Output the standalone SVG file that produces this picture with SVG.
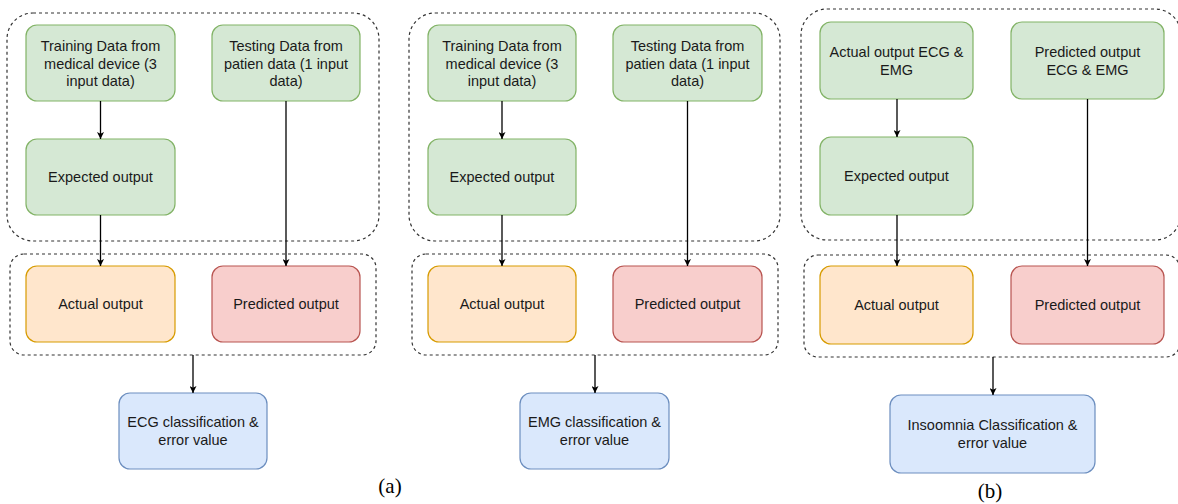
<svg xmlns="http://www.w3.org/2000/svg" width="1178" height="504" viewBox="0 0 1178 504">
  <style>
    .grp { fill: none; stroke: #333333; stroke-width: 1.2; stroke-dasharray: 3 3; }
    .green { fill: #d5e8d4; stroke: #82b366; stroke-width: 1.2; }
    .orange { fill: #ffe6cc; stroke: #d79b00; stroke-width: 1.2; }
    .red { fill: #f8cecc; stroke: #b85450; stroke-width: 1.2; }
    .blue { fill: #dae8fc; stroke: #6c8ebf; stroke-width: 1.2; }
    .lbl { font-family: "Liberation Sans", Arial, sans-serif; font-size: 14.5px; fill: #1a1a1a; text-anchor: middle; }
    .cap { font-family: "Liberation Serif", "Times New Roman", serif; font-size: 21px; fill: #000000; text-anchor: middle; }
    .edge { fill: none; stroke: #000000; stroke-width: 1.3; marker-end: url(#arrow); }
  </style>
  <defs>
    <marker id="arrow" viewBox="0 0 10 10" refX="10" refY="5" markerWidth="7" markerHeight="7" markerUnits="userSpaceOnUse" orient="auto">
      <path d="M0,0 L10,5 L0,10 L2.5,5 Z" fill="#000000"/>
    </marker>
  </defs>
  <rect width="1178" height="504" fill="#ffffff"/>

  <!-- dashed grouping frames -->
  <g id="frames">
    <rect class="grp" x="7" y="13" width="372" height="228" rx="26" ry="26"/>
    <rect class="grp" x="10" y="254" width="366" height="101" rx="14" ry="14"/>
    <rect class="grp" x="409" y="13" width="371" height="228" rx="26" ry="26"/>
    <rect class="grp" x="412" y="254" width="366" height="101" rx="14" ry="14"/>
    <rect class="grp" x="801" y="9" width="380" height="231" rx="26" ry="26"/>
    <rect class="grp" x="804" y="255" width="376" height="102" rx="14" ry="14"/>
  </g>

  <!-- panel (a): ECG -->
  <g id="a-training">
    <rect class="green" x="26" y="25" width="149" height="76" rx="11"/>
    <text class="lbl" x="100.5" y="51">Training Data from</text>
    <text class="lbl" x="100.5" y="68.5">medical device (3</text>
    <text class="lbl" x="100.5" y="86">input data)</text>
  </g>
  <g id="a-testing">
    <rect class="green" x="212" y="25" width="148" height="76" rx="11"/>
    <text class="lbl" x="286" y="51">Testing Data from</text>
    <text class="lbl" x="286" y="68.5">patien data (1 input</text>
    <text class="lbl" x="286" y="86">data)</text>
  </g>
  <g id="a-expected">
    <rect class="green" x="26" y="139" width="149" height="76" rx="11"/>
    <text class="lbl" x="100.5" y="182">Expected output</text>
  </g>
  <g id="a-actual">
    <rect class="orange" x="26" y="266" width="149" height="76" rx="11"/>
    <text class="lbl" x="100.5" y="309">Actual output</text>
  </g>
  <g id="a-predicted">
    <rect class="red" x="212" y="266" width="148" height="76" rx="11"/>
    <text class="lbl" x="286" y="309">Predicted output</text>
  </g>
  <g id="a-result">
    <rect class="blue" x="119" y="393" width="148" height="76" rx="11"/>
    <text class="lbl" x="193" y="427">ECG classification &amp;</text>
    <text class="lbl" x="193" y="444.5">error value</text>
  </g>

  <!-- panel (a'): EMG -->
  <g id="b-training">
    <rect class="green" x="428" y="25" width="148" height="76" rx="11"/>
    <text class="lbl" x="502" y="51">Training Data from</text>
    <text class="lbl" x="502" y="68.5">medical device (3</text>
    <text class="lbl" x="502" y="86">input data)</text>
  </g>
  <g id="b-testing">
    <rect class="green" x="613" y="25" width="149" height="76" rx="11"/>
    <text class="lbl" x="687.5" y="51">Testing Data from</text>
    <text class="lbl" x="687.5" y="68.5">patien data (1 input</text>
    <text class="lbl" x="687.5" y="86">data)</text>
  </g>
  <g id="b-expected">
    <rect class="green" x="428" y="139" width="148" height="76" rx="11"/>
    <text class="lbl" x="502" y="182">Expected output</text>
  </g>
  <g id="b-actual">
    <rect class="orange" x="428" y="266" width="148" height="76" rx="11"/>
    <text class="lbl" x="502" y="309">Actual output</text>
  </g>
  <g id="b-predicted">
    <rect class="red" x="613" y="266" width="149" height="76" rx="11"/>
    <text class="lbl" x="687.5" y="309">Predicted output</text>
  </g>
  <g id="b-result">
    <rect class="blue" x="520" y="393" width="149" height="76" rx="11"/>
    <text class="lbl" x="594.5" y="427">EMG classification &amp;</text>
    <text class="lbl" x="594.5" y="444.5">error value</text>
  </g>

  <!-- panel (b): insomnia -->
  <g id="c-actual-in">
    <rect class="green" x="820" y="22" width="153" height="77" rx="11"/>
    <text class="lbl" x="896.5" y="57">Actual output ECG &amp;</text>
    <text class="lbl" x="896.5" y="74.5">EMG</text>
  </g>
  <g id="c-predicted-in">
    <rect class="green" x="1011" y="22" width="153" height="77" rx="11"/>
    <text class="lbl" x="1087.5" y="57">Predicted output</text>
    <text class="lbl" x="1087.5" y="74.5">ECG &amp; EMG</text>
  </g>
  <g id="c-expected">
    <rect class="green" x="820" y="137" width="153" height="78" rx="11"/>
    <text class="lbl" x="896.5" y="181">Expected output</text>
  </g>
  <g id="c-actual">
    <rect class="orange" x="820" y="266" width="153" height="78" rx="11"/>
    <text class="lbl" x="896.5" y="310">Actual output</text>
  </g>
  <g id="c-predicted">
    <rect class="red" x="1011" y="266" width="153" height="78" rx="11"/>
    <text class="lbl" x="1087.5" y="310">Predicted output</text>
  </g>
  <g id="c-result">
    <rect class="blue" x="890" y="395" width="205" height="78" rx="11"/>
    <text class="lbl" x="992.5" y="430">Insoomnia Classification &amp;</text>
    <text class="lbl" x="992.5" y="447.5">error value</text>
  </g>

  <!-- connectors -->
  <g id="connectors">
    <line class="edge" x1="100.5" y1="101" x2="100.5" y2="139"/>
    <line class="edge" x1="100.5" y1="215" x2="100.5" y2="266"/>
    <line class="edge" x1="286" y1="101" x2="286" y2="266"/>
    <line class="edge" x1="193" y1="355" x2="193" y2="393"/>

    <line class="edge" x1="502" y1="101" x2="502" y2="139"/>
    <line class="edge" x1="502" y1="215" x2="502" y2="266"/>
    <line class="edge" x1="687.5" y1="101" x2="687.5" y2="266"/>
    <line class="edge" x1="595" y1="355" x2="595" y2="393"/>

    <line class="edge" x1="897" y1="99" x2="897" y2="137"/>
    <line class="edge" x1="897" y1="215" x2="897" y2="266"/>
    <line class="edge" x1="1087.5" y1="99" x2="1087.5" y2="266"/>
    <line class="edge" x1="993" y1="357" x2="993" y2="395"/>
  </g>

  <!-- panel captions -->
  <text class="cap" x="390" y="493">(a)</text>
  <text class="cap" x="990" y="498">(b)</text>
</svg>
